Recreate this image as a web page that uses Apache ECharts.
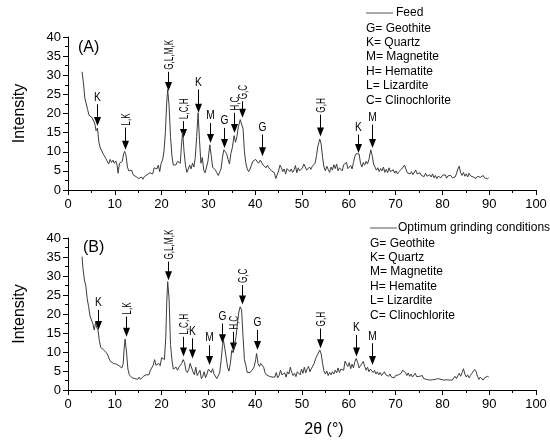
<!DOCTYPE html>
<html>
<head>
<meta charset="utf-8">
<script src="https://cdn.jsdelivr.net/npm/echarts@6/dist/echarts.min.js"></script>
<style>
  html, body { margin: 0; padding: 0; background: #fff; }
  #chart { width: 550px; height: 443px; }
</style>
</head>
<body>
<div id="chart"></div>
<script>
// XRD pattern of the feed sample: [2θ (°), intensity]
const feedPattern = [
  [3.0,30.9],[3.3,28],[3.6,24],[3.9,23.5],[4.2,21],[4.5,19.5],[4.8,20],[5.1,19],[5.4,18.5],[5.7,17.5],
  [6.0,15.5],[6.3,16.2],[6.6,12.5],[6.9,11],[7.2,11.5],[7.5,9.5],[7.8,9.8],[8.1,8.2],[8.4,8.0],[8.7,6.8],
  [9.0,8.0],[9.3,7.2],[9.6,7.8],[9.9,7.0],[10.2,7.6],[10.5,6.5],[10.7,4.4],[11.0,7.0],[11.3,6.5],[11.6,7.5],
  [11.9,9.5],[12.1,10.1],[12.4,9],[12.7,6.0],[13.0,5.0],[13.3,4.5],[13.6,5.2],[13.9,4.0],[14.2,4.2],[14.5,3.5],
  [14.8,3.8],[15.1,3.0],[15.4,2.8],[15.7,3.4],[16.0,2.8],[16.3,3.5],[16.6,3.2],[16.9,4.0],[17.2,3.6],[17.5,4.5],
  [17.8,5.0],[18.1,4.2],[18.4,5.8],[18.7,6.2],[19.0,5.5],[19.3,6.5],[19.6,4.8],[19.9,7.0],[20.2,7.8],[20.5,10],
  [20.8,15],[21.1,23],[21.3,26.3],[21.6,22],[21.9,14],[22.2,9],[22.5,6.5],[22.8,7.0],[23.1,6.6],[23.4,7.5],
  [23.7,7.8],[24.0,7.0],[24.2,11],[24.5,15.2],[24.8,10],[25.1,6.5],[25.4,4.6],[25.7,5.5],[26.0,6.5],[26.3,5.5],
  [26.6,7.0],[26.9,6.0],[27.2,8.5],[27.5,14],[27.8,20.2],[28.1,13],[28.4,7.0],[28.7,8.5],[29.0,5.2],[29.3,4.5],
  [29.6,6.0],[29.9,7.5],[30.3,11.8],[30.6,9],[30.9,6.0],[31.2,5.5],[31.5,5.2],[31.8,4.5],[32.1,3.8],[32.4,4.2],
  [32.7,5.5],[33.0,8.5],[33.3,10.5],[33.6,10.2],[33.9,9.5],[34.2,8.0],[34.5,6.8],[34.8,9.5],[35.1,11.0],[35.5,14.2],
  [35.8,12.5],[36.1,14.0],[36.4,16.5],[36.8,18.4],[37.1,18.2],[37.4,16],[37.7,10],[38.0,7.0],[38.3,5.5],[38.6,4.8],
  [38.9,5.5],[39.2,6.5],[39.5,7.5],[39.8,7.2],[40.1,8.0],[40.4,7.5],[40.7,7.0],[41.1,7.8],[41.4,8.3],[41.7,6.5],
  [42.0,6.2],[42.3,5.8],[42.6,6.5],[42.9,5.8],[43.2,6.0],[43.5,5.0],[43.8,5.5],[44.1,4.5],[44.4,3.0],[44.7,2.8],
  [45.0,5.0],[45.3,6.5],[45.6,5.8],[45.9,4.8],[46.2,5.5],[46.5,4.2],[46.8,5.6],[47.1,6.0],[47.4,4.8],[47.7,5.5],
  [48.0,4.6],[48.3,5.2],[48.6,6.4],[48.9,4.5],[49.2,5.8],[49.5,5.0],[49.8,4.5],[50.1,5.8],[50.4,6.8],[50.7,7.0],
  [51.0,5.2],[51.3,4.8],[51.6,6.0],[51.9,5.4],[52.2,6.2],[52.5,5.8],[52.8,7.0],[53.1,9.0],[53.4,11.5],[53.8,13.3],
  [54.1,12.0],[54.4,8.5],[54.7,6.0],[55.0,5.0],[55.3,6.2],[55.6,5.4],[55.9,4.6],[56.2,6.0],[56.5,5.2],[56.8,6.6],
  [57.1,5.6],[57.4,6.8],[57.7,5.0],[58.0,5.8],[58.3,6.2],[58.6,5.0],[58.9,6.6],[59.2,7.0],[59.5,7.2],[59.8,5.6],
  [60.1,5.2],[60.4,6.4],[60.7,5.5],[61.0,7.2],[61.3,8.8],[61.6,9.5],[61.9,9.0],[62.2,9.4],[62.5,7.0],[62.8,6.0],
  [63.1,7.2],[63.4,6.5],[63.7,7.5],[64.0,6.8],[64.3,8.0],[64.7,10.5],[65.0,9.0],[65.3,6.8],[65.6,6.0],[65.9,5.2],
  [66.2,5.8],[66.5,4.8],[66.8,5.6],[67.1,5.0],[67.4,6.0],[67.7,4.6],[68.0,5.4],[68.3,4.5],[68.6,5.8],[68.9,4.8],
  [69.2,4.5],[69.5,5.3],[69.8,4.4],[70.1,5.0],[70.4,4.2],[70.7,4.8],[71.0,4.4],[71.3,5.5],[71.6,6.0],[71.9,6.5],
  [72.2,5.5],[72.5,4.5],[72.8,5.0],[73.1,4.2],[73.4,4.8],[73.7,4.0],[74.0,4.5],[74.3,5.2],[74.6,4.2],[74.9,3.8],
  [75.2,4.5],[75.5,3.8],[75.8,4.2],[76.1,3.5],[76.4,4.4],[76.7,3.6],[77.0,3.2],[77.3,4.0],[77.6,3.4],[77.9,4.2],
  [78.2,3.2],[78.5,3.8],[78.8,3.0],[79.1,3.6],[79.4,4.0],[79.7,3.2],[80.0,3.8],[80.3,3.4],[80.6,4.0],[80.9,3.1],
  [81.2,3.7],[81.5,3.3],[81.8,3.8],[82.1,3.2],[82.4,3.6],[82.7,3.4],[83.0,4.2],[83.3,5.5],[83.6,6.2],[83.9,4.5],
  [84.2,3.8],[84.5,4.6],[84.8,3.6],[85.1,4.2],[85.4,3.4],[85.7,4.4],[86.0,3.7],[86.3,4.2],[86.6,3.4],[86.9,3.8],
  [87.2,3.0],[87.5,3.6],[87.8,4.0],[88.1,3.3],[88.4,3.0],[88.7,3.8],[89.0,3.2],[89.3,3.5],[89.6,2.9],[89.9,3.2]
];

// XRD pattern after grinding at the optimum conditions: [2θ (°), intensity]
const optimumPattern = [
  [3.0,35.1],[3.2,32],[3.5,29],[3.8,27.5],[4.1,24],[4.4,22],[4.7,19.5],[5.0,19.0],[5.3,17.5],[5.6,15.8],
  [5.9,17.8],[6.1,16.5],[6.4,15.8],[6.7,13.0],[7.0,11.2],[7.3,11.5],[7.6,10.6],[7.9,10.8],[8.2,9.8],[8.5,9.2],
  [8.8,8.2],[9.1,7.5],[9.4,7.8],[9.7,7.0],[10.0,7.4],[10.3,6.8],[10.6,7.2],[10.9,6.4],[11.2,6.8],[11.5,5.8],
  [11.8,7.0],[12.0,11],[12.2,13.4],[12.5,10],[12.8,5.5],[13.1,4.0],[13.4,3.8],[13.7,3.2],[14.0,3.6],[14.3,3.0],
  [14.6,3.3],[14.9,2.8],[15.2,3.4],[15.5,2.8],[15.8,3.2],[16.1,3.6],[16.4,3.2],[16.7,4.0],[17.0,4.5],[17.3,4.0],
  [17.6,5.2],[17.9,5.6],[18.2,6.5],[18.5,8.0],[18.8,6.5],[19.1,6.0],[19.4,7.0],[19.7,6.4],[20.0,8.5],[20.3,9.0],
  [20.6,8.0],[20.9,14],[21.1,23],[21.3,28.5],[21.6,24],[21.9,12],[22.2,8.0],[22.5,5.5],[22.8,5.0],[23.1,6.0],
  [23.4,5.2],[23.7,6.0],[24.0,5.6],[24.3,7.0],[24.6,8.0],[24.9,7.2],[25.2,5.2],[25.5,4.6],[25.8,5.4],[26.1,7.0],
  [26.4,6.6],[26.7,4.8],[27.0,4.0],[27.3,6.0],[27.6,3.8],[27.9,3.4],[28.2,5.2],[28.5,3.0],[28.8,3.6],[29.1,4.8],
  [29.4,3.2],[29.7,4.2],[30.0,5.5],[30.3,6.0],[30.6,4.6],[30.9,5.6],[31.2,4.2],[31.5,3.8],[31.8,3.0],[32.1,3.0],
  [32.4,4.5],[32.7,7.5],[33.0,11.5],[33.2,13.2],[33.5,11],[33.8,8.5],[34.1,6.0],[34.4,5.0],[34.7,7.0],[35.0,10.5],
  [35.3,9.8],[35.6,12.0],[35.9,14.0],[36.2,17.5],[36.5,20.5],[36.8,21.9],[37.1,21.0],[37.4,14],[37.7,8.0],[38.0,6.5],
  [38.3,4.6],[38.6,4.2],[38.9,4.6],[39.2,5.0],[39.5,5.5],[39.8,6.2],[40.1,8.0],[40.3,9.6],[40.6,7.0],[40.9,6.2],
  [41.2,7.0],[41.5,7.4],[41.8,6.0],[42.1,4.6],[42.4,4.0],[42.7,4.4],[43.0,3.6],[43.3,4.0],[43.6,3.4],[43.9,3.6],
  [44.2,3.4],[44.5,4.6],[44.8,3.2],[45.1,3.8],[45.4,5.2],[45.7,4.0],[46.0,3.6],[46.3,4.5],[46.6,3.4],[46.9,4.8],
  [47.2,4.2],[47.5,6.0],[47.8,4.6],[48.1,3.8],[48.4,4.4],[48.7,3.5],[49.0,4.8],[49.3,5.2],[49.6,4.0],[49.9,5.5],
  [50.2,4.4],[50.5,6.0],[50.8,4.5],[51.1,5.6],[51.4,6.2],[51.7,4.8],[52.0,5.6],[52.3,6.0],[52.6,7.0],[52.9,8.2],
  [53.2,9.0],[53.5,8.6],[53.8,10.5],[54.1,9.5],[54.4,7.0],[54.7,5.0],[55.0,4.2],[55.3,5.0],[55.6,3.8],[55.9,4.6],
  [56.2,4.0],[56.5,4.8],[56.8,4.2],[57.1,5.2],[57.4,4.5],[57.7,5.8],[58.0,4.6],[58.3,5.5],[58.6,6.0],[58.9,5.2],
  [59.2,7.6],[59.5,6.8],[59.8,6.2],[60.1,7.2],[60.4,5.6],[60.7,6.8],[61.0,5.8],[61.3,7.5],[61.6,8.3],[61.9,7.2],
  [62.2,5.8],[62.5,6.4],[62.8,6.0],[63.1,7.5],[63.4,6.2],[63.7,5.2],[64.0,6.0],[64.3,4.8],[64.6,5.5],[64.9,5.7],
  [65.2,4.6],[65.5,5.2],[65.8,4.2],[66.1,4.8],[66.4,4.0],[66.7,4.6],[67.0,3.8],[67.3,4.2],[67.6,4.8],[67.9,4.0],
  [68.2,4.5],[68.5,3.6],[68.8,4.2],[69.1,3.4],[69.4,3.9],[69.7,3.2],[70.0,3.8],[70.3,3.3],[70.6,4.0],[70.9,3.6],
  [71.2,4.4],[71.5,5.2],[71.8,5.6],[72.1,4.6],[72.4,3.8],[72.7,4.5],[73.0,3.6],[73.3,4.2],[73.6,3.4],[73.9,3.8],
  [74.2,4.4],[74.5,3.5],[74.8,3.0],[75.1,3.6],[75.4,3.2],[75.7,3.8],[76.0,3.0],[76.3,3.4],[76.6,2.8],[77.0,3.2],
  [77.3,2.6],[77.6,3.0],[77.9,2.7],[78.2,3.1],[78.5,2.8],[78.8,2.6],[79.1,3.0],[79.4,3.4],[79.7,2.8],[80.0,3.0],
  [80.3,2.6],[80.6,2.9],[80.9,2.7],[81.2,3.0],[81.5,2.6],[81.8,2.8],[82.1,2.6],[82.4,3.0],[82.7,3.6],[83.0,3.0],
  [83.3,3.8],[83.6,4.4],[83.9,3.6],[84.2,4.6],[84.5,5.6],[84.8,4.2],[85.1,3.4],[85.4,4.0],[85.7,3.2],[86.0,3.8],
  [86.3,4.4],[86.6,4.0],[86.9,5.4],[87.2,4.8],[87.5,3.6],[87.8,2.8],[88.1,3.4],[88.4,3.0],[88.7,2.6],[89.0,3.2],
  [89.3,3.0],[89.6,3.6],[89.9,3.4]
];

// Phase identification marks: [2θ, arrow tip intensity, arrow tail intensity, phases]
const feedPeaks = [
  [6.3, 16.7, 22.4, 'K'],
  [12.1, 10.5, 16.3, 'L,K'],
  [21.3, 25.9, 30.9, 'G,L,M,K'],
  [24.5, 13.6, 18.0, 'L,C,H'],
  [27.8, 20.2, 26.3, 'K'],
  [30.3, 12.3, 17.5, 'M'],
  [33.3, 11.0, 16.2, 'G'],
  [35.4, 14.9, 20.2, 'H,C'],
  [37.1, 18.9, 23.2, 'G,C'],
  [41.4, 8.8, 14.5, 'G'],
  [53.9, 14.0, 19.7, 'G,H'],
  [61.9, 9.7, 14.5, 'K'],
  [65.0, 11.0, 17.1, 'M']
];
const optimumPeaks = [
  [6.4, 15.8, 21.1, 'K'],
  [12.3, 14.0, 19.3, 'L,K'],
  [21.4, 28.9, 33.8, 'G,L,M,K'],
  [24.5, 8.8, 14.0, 'L,C,H'],
  [26.4, 8.3, 13.6, 'K'],
  [30.2, 6.6, 11.8, 'M'],
  [33.0, 12.3, 17.5, 'G'],
  [35.3, 10.1, 15.3, 'H,C'],
  [37.1, 22.5, 27.6, 'G,C'],
  [40.4, 10.5, 15.8, 'G'],
  [53.8, 11.0, 16.2, 'G,H'],
  [61.5, 8.8, 14.5, 'K'],
  [64.9, 6.6, 12.3, 'M']
];

// Axis ticks and phase key
const angleTicks = [0, 10, 20, 30, 40, 50, 60, 70, 80, 90, 100];
const intensityTicks = [0, 5, 10, 15, 20, 25, 30, 35, 40];
const phaseKey = ['G= Geothite', 'K= Quartz', 'M= Magnetite', 'H= Hematite', 'L= Lizardite', 'C= Clinochlorite'];
const seriesNames = ['Feed', 'Optimum grinding conditions'];
const panelTags = ['(A)', '(B)'];

const FONT = '"Liberation Sans", Arial, sans-serif';
const LINE_COLOR = '#3c3c3c';

function xAxisFor(gridIndex, withName) {
  return {
    type: 'value', gridIndex,
    min: angleTicks[0], max: angleTicks[angleTicks.length - 1],
    interval: angleTicks[1] - angleTicks[0],
    axisLine: { onZero: false, lineStyle: { color: '#000', width: 1 } },
    axisTick: { show: true, inside: false, length: 5, lineStyle: { color: '#000' } },
    minorTick: { show: true, splitNumber: 2, length: 3, lineStyle: { color: '#000' } },
    splitLine: { show: false },
    axisLabel: { color: '#000', fontSize: 13, fontFamily: FONT, margin: 8 },
    name: withName ? '2θ (°)' : '',
    nameLocation: 'middle',
    nameGap: 32,
    nameTextStyle: { color: '#000', fontSize: 16, fontFamily: FONT, padding: [0, 0, 0, 44] }
  };
}

function yAxisFor(gridIndex) {
  return {
    type: 'value', gridIndex,
    min: intensityTicks[0], max: intensityTicks[intensityTicks.length - 1],
    interval: intensityTicks[1] - intensityTicks[0],
    axisLine: { show: true, onZero: false, lineStyle: { color: '#000', width: 1 } },
    axisTick: { show: true, inside: false, length: 5, lineStyle: { color: '#000' } },
    minorTick: { show: true, splitNumber: 2, length: 3, lineStyle: { color: '#000' } },
    splitLine: { show: false },
    axisLabel: { color: '#000', fontSize: 13, fontFamily: FONT, margin: 7 },
    name: 'Intensity',
    nameLocation: 'middle',
    nameGap: 40,
    nameTextStyle: { color: '#000', fontSize: 16, fontFamily: FONT }
  };
}

// Arrow + phase label drawn in data coordinates
function peakMarks(peaks, gridIndex) {
  return {
    type: 'custom',
    xAxisIndex: gridIndex, yAxisIndex: gridIndex,
    coordinateSystem: 'cartesian2d',
    clip: false,
    silent: true,
    encode: { x: 0, y: [1, 2] },
    data: peaks.map(p => [p[0], p[1], p[2]]),
    renderItem: function (params, api) {
      const label = peaks[params.dataIndex][3];
      const tip = api.coord([api.value(0), api.value(1)]);
      const tail = api.coord([api.value(0), api.value(2)]);
      const head = 9, half = 3.5;
      const cx = Math.round(tip[0]) + 0.5;
      const rotated = label.length > 1;
      const text = rotated ? {
        type: 'text', x: cx + 1, y: tail[1] - 2, rotation: Math.PI / 2, scaleX: 0.68,
        style: { text: label, x: 0, y: 0, align: 'left', verticalAlign: 'middle',
                 fill: '#000', font: '12px ' + FONT }
      } : {
        type: 'text', x: cx, y: tail[1] - 1, scaleX: 0.85,
        style: { text: label, x: 0, y: 0, align: 'center', verticalAlign: 'bottom',
                 fill: '#000', font: '12px ' + FONT }
      };
      return {
        type: 'group',
        children: [
          { type: 'line', shape: { x1: cx, y1: tail[1], x2: cx, y2: tip[1] - head + 1 },
            style: { stroke: '#000', lineWidth: 1 } },
          { type: 'polygon', shape: { points: [[cx - half, tip[1] - head], [cx + half, tip[1] - head], [cx, tip[1]]] },
            style: { fill: '#000' } },
          text
        ]
      };
    }
  };
}

const chart = echarts.init(document.getElementById('chart'), null, { renderer: 'canvas' });

const legendBase = {
  padding: 0, itemWidth: 27, itemHeight: 1, itemGap: 0, icon: 'rect',
  itemStyle: { color: '#555' }
};

const option = {
  animation: false,
  backgroundColor: '#fff',
  textStyle: { fontFamily: FONT },
  grid: [
    { left: 68, top: 37, width: 468, height: 153 },
    { left: 68, top: 238, width: 468, height: 152 }
  ],
  xAxis: [xAxisFor(0, false), xAxisFor(1, true)],
  yAxis: [yAxisFor(0), yAxisFor(1)],
  legend: [
    Object.assign({}, legendBase, { data: [seriesNames[0]], left: 366, top: 7,
      textStyle: { fontSize: 12, fontFamily: FONT, color: '#000', padding: [0, 0, 0, -2] } }),
    Object.assign({}, legendBase, { data: [seriesNames[1]], left: 370, top: 222,
      textStyle: { fontSize: 12, fontFamily: FONT, color: '#000', padding: [0, 0, 0, -4] } })
  ],
  graphic: [
    { type: 'text', left: 366, top: 21, style: { text: phaseKey.join('\n'), font: '12px ' + FONT, lineHeight: 14.4, fill: '#000' } },
    { type: 'text', left: 370, top: 236, style: { text: phaseKey.join('\n'), font: '12px ' + FONT, lineHeight: 14.4, fill: '#000' } },
    { type: 'text', left: 78, top: 40, style: { text: panelTags[0], font: '16px ' + FONT, fill: '#000' } },
    { type: 'text', left: 83, top: 240, style: { text: panelTags[1], font: '16px ' + FONT, fill: '#000' } }
  ],
  series: [
    { name: seriesNames[0], type: 'line', xAxisIndex: 0, yAxisIndex: 0, data: feedPattern,
      symbol: 'none', lineStyle: { color: LINE_COLOR, width: 1 }, itemStyle: { color: LINE_COLOR } },
    { name: seriesNames[1], type: 'line', xAxisIndex: 1, yAxisIndex: 1, data: optimumPattern,
      symbol: 'none', lineStyle: { color: LINE_COLOR, width: 1 }, itemStyle: { color: LINE_COLOR } },
    peakMarks(feedPeaks, 0),
    peakMarks(optimumPeaks, 1)
  ]
};

chart.setOption(option);
</script>
</body>
</html>
